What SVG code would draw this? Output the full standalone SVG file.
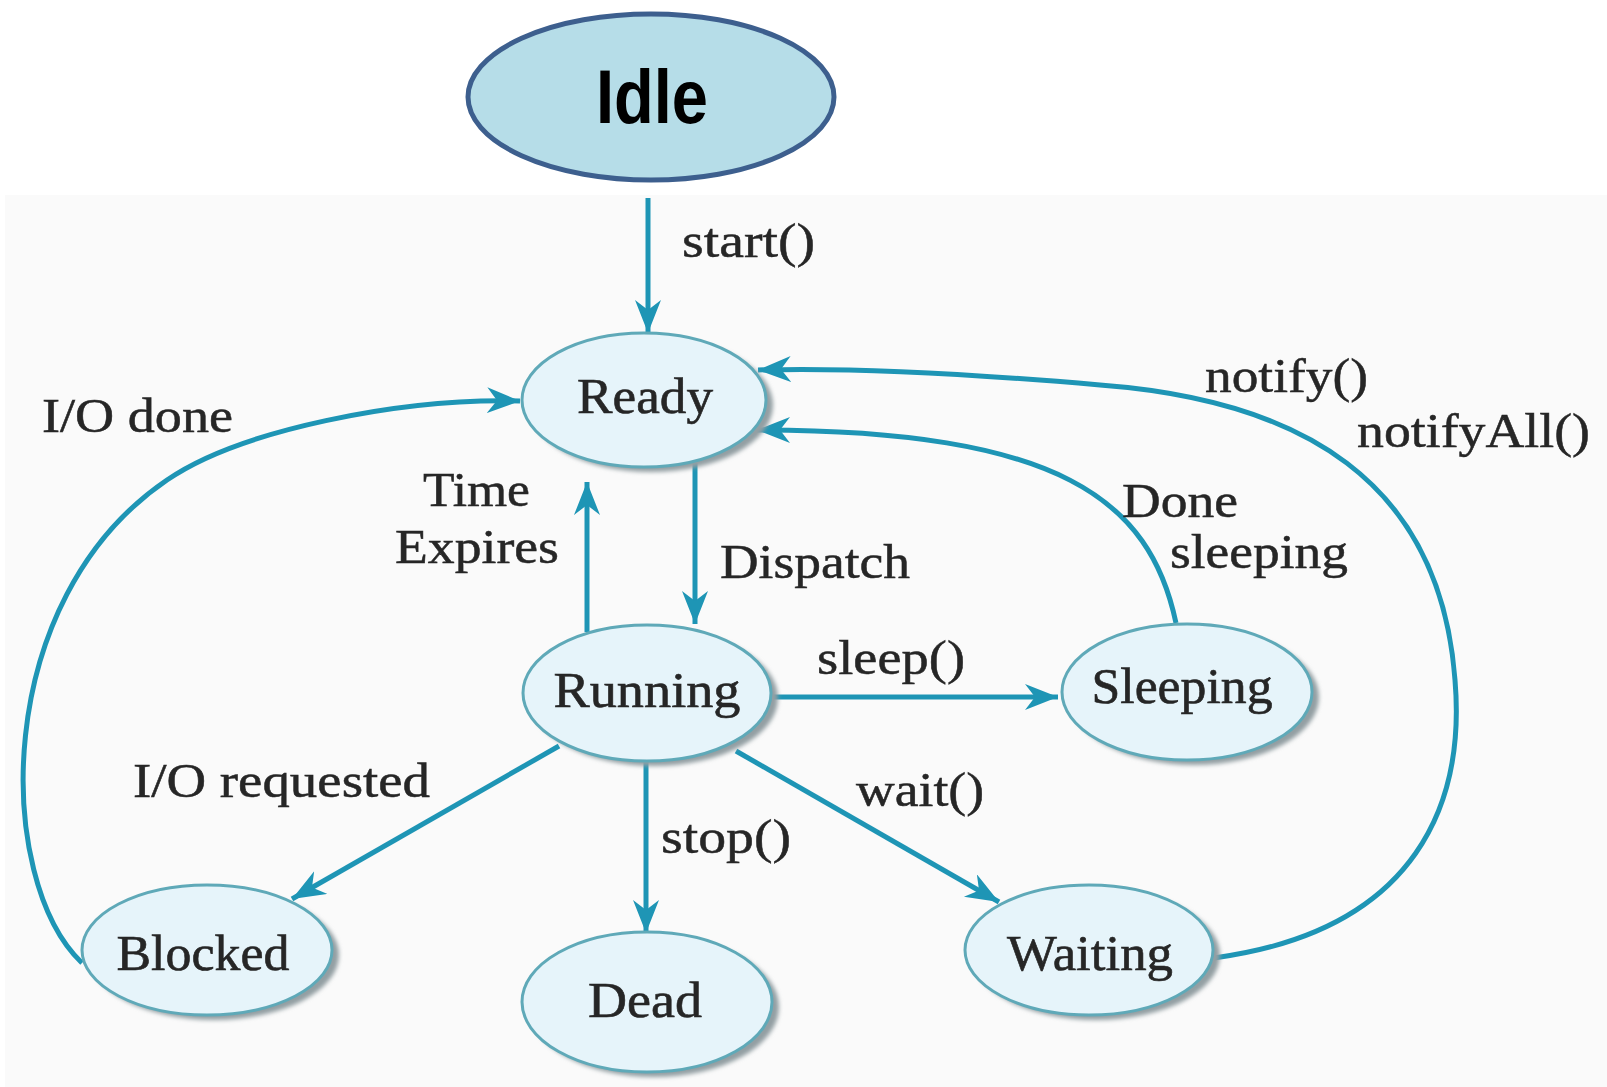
<svg xmlns="http://www.w3.org/2000/svg" width="1607" height="1087" viewBox="0 0 1607 1087">
  <style>
    .node { fill: #e6f4fa; stroke: #5fa9b8; stroke-width: 3; }
    .shadow { fill: #939fa3; }
    .name { font-family: "Liberation Serif", "Times New Roman", serif; font-size: 50px; fill: #262626; stroke: #262626; stroke-width: 0.6; text-anchor: middle; }
    .lbl { font-family: "Liberation Serif", "Times New Roman", serif; font-size: 48px; fill: #262626; stroke: #262626; stroke-width: 0.5; }
    .edge { fill: none; stroke: #1e95b5; stroke-width: 5; marker-end: url(#head); }
  </style>
  <defs>
    <marker id="head" markerUnits="userSpaceOnUse" markerWidth="36" markerHeight="28" refX="33" refY="13" orient="auto">
      <path d="M0,0 L33,13 L0,26 L10,13 Z" fill="#1e95b5"/>
    </marker>
    <filter id="soft" x="-10%" y="-10%" width="120%" height="120%">
      <feGaussianBlur stdDeviation="2"/>
    </filter>
  </defs>

  <rect width="1607" height="1087" fill="#ffffff"/>
  <!-- light panel behind the state machine -->
  <rect x="5" y="195" width="1602" height="892" fill="#fafafa"/>

  <!-- start state -->
  <g id="idle">
    <ellipse cx="651" cy="97" rx="183" ry="83" fill="#b6dde8" stroke="#3d5f8e" stroke-width="5"/>
    <text x="652" y="123" font-family="Liberation Sans, Arial, sans-serif" font-weight="bold" font-size="76" fill="#000" text-anchor="middle" textLength="112" lengthAdjust="spacingAndGlyphs">Idle</text>
  </g>

  <g id="connectors">
    <path class="edge" d="M648 198 L648 333"/>
    <path class="edge" d="M695 463 L695 624"/>
    <path class="edge" d="M587 632 L587 482"/>
    <path class="edge" d="M82 963 C-5 880, -10 600, 167 480 C240 430, 400 398, 520 401"/>
    <path class="edge" d="M559 746 L292 899"/>
    <path class="edge" d="M646 762 L646 933"/>
    <path class="edge" d="M736 751 L999 902"/>
    <path class="edge" d="M771 697 L1058 697"/>
    <path class="edge" d="M1176 623 C1150 500, 1060 430, 757 430"/>
    <path class="edge" d="M1214 958 C1420 930, 1465 800, 1455 680 C1440 480, 1300 400, 1100 385 C950 372, 830 368, 758 370"/>
  </g>

  <g id="labels">
    <text class="lbl" x="682" y="257" textLength="133" lengthAdjust="spacingAndGlyphs">start()</text>
    <text class="lbl" x="720" y="578" textLength="190" lengthAdjust="spacingAndGlyphs">Dispatch</text>
    <text class="lbl" x="423" y="506" textLength="107" lengthAdjust="spacingAndGlyphs">Time</text>
    <text class="lbl" x="395" y="563" textLength="164" lengthAdjust="spacingAndGlyphs">Expires</text>
    <text class="lbl" x="42" y="432" textLength="191" lengthAdjust="spacingAndGlyphs">I/O done</text>
    <text class="lbl" x="133" y="797" textLength="297" lengthAdjust="spacingAndGlyphs">I/O requested</text>
    <text class="lbl" x="661" y="853" textLength="130" lengthAdjust="spacingAndGlyphs">stop()</text>
    <text class="lbl" x="856" y="806" textLength="128" lengthAdjust="spacingAndGlyphs">wait()</text>
    <text class="lbl" x="817" y="674" textLength="148" lengthAdjust="spacingAndGlyphs">sleep()</text>
    <text class="lbl" x="1122" y="517" textLength="116" lengthAdjust="spacingAndGlyphs">Done</text>
    <text class="lbl" x="1170" y="568" textLength="178" lengthAdjust="spacingAndGlyphs">sleeping</text>
    <text class="lbl" x="1205" y="392" textLength="163" lengthAdjust="spacingAndGlyphs">notify()</text>
    <text class="lbl" x="1357" y="447" textLength="233" lengthAdjust="spacingAndGlyphs">notifyAll()</text>
  </g>

  <g id="ready">
    <ellipse class="shadow" cx="651" cy="405" rx="122" ry="67" filter="url(#soft)"/>
    <ellipse class="node" cx="644" cy="400" rx="122" ry="67"/>
    <text class="name" x="645" y="413" textLength="136" lengthAdjust="spacingAndGlyphs">Ready</text>
  </g>
  <g id="running">
    <ellipse class="shadow" cx="654" cy="698" rx="124" ry="68" filter="url(#soft)"/>
    <ellipse class="node" cx="647" cy="693" rx="124" ry="68"/>
    <text class="name" x="647" y="707" textLength="187" lengthAdjust="spacingAndGlyphs">Running</text>
  </g>
  <g id="sleeping">
    <ellipse class="shadow" cx="1194" cy="697" rx="125" ry="68" filter="url(#soft)"/>
    <ellipse class="node" cx="1187" cy="692" rx="125" ry="68"/>
    <text class="name" x="1182" y="703" textLength="181" lengthAdjust="spacingAndGlyphs">Sleeping</text>
  </g>
  <g id="blocked">
    <ellipse class="shadow" cx="214" cy="955" rx="125" ry="65" filter="url(#soft)"/>
    <ellipse class="node" cx="207" cy="950" rx="125" ry="65"/>
    <text class="name" x="203" y="970" textLength="173" lengthAdjust="spacingAndGlyphs">Blocked</text>
  </g>
  <g id="dead">
    <ellipse class="shadow" cx="654" cy="1007" rx="125" ry="70" filter="url(#soft)"/>
    <ellipse class="node" cx="647" cy="1002" rx="125" ry="70"/>
    <text class="name" x="645" y="1017" textLength="114" lengthAdjust="spacingAndGlyphs">Dead</text>
  </g>
  <g id="waiting">
    <ellipse class="shadow" cx="1096" cy="955" rx="124" ry="65" filter="url(#soft)"/>
    <ellipse class="node" cx="1089" cy="950" rx="124" ry="65"/>
    <text class="name" x="1090" y="970" textLength="166" lengthAdjust="spacingAndGlyphs">Waiting</text>
  </g>
</svg>
